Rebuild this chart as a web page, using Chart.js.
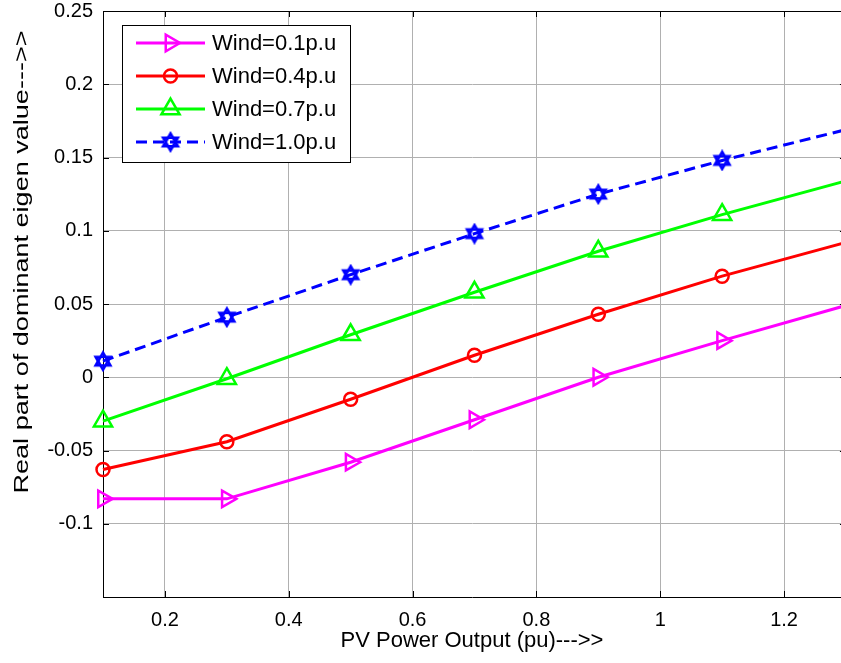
<!DOCTYPE html>
<html><head><meta charset="utf-8">
<script src="https://cdn.jsdelivr.net/npm/chart.js@4/dist/chart.umd.min.js"></script>
<style>html,body{margin:0;padding:0;background:#fff}#wrap{width:841px;height:663px;position:relative}</style>
</head><body><div id="wrap"><canvas id="c" width="841" height="663"></canvas></div>
<script>
// ---- data ----
const pvOutput = [0.1, 0.3, 0.5, 0.7, 0.9, 1.1, 1.3];
const wind01 = [-0.083, -0.083, -0.058, -0.029, 0.000, 0.025, 0.049];
const wind04 = [-0.063, -0.044, -0.015, 0.015, 0.043, 0.069, 0.092];
const wind07 = [-0.030, -0.001, 0.029, 0.058, 0.086, 0.111, 0.134];
const wind10 = [0.011, 0.041, 0.070, 0.098, 0.125, 0.148, 0.169];
const seriesNames = ['Wind=0.1p.u', 'Wind=0.4p.u', 'Wind=0.7p.u', 'Wind=1.0p.u'];
const xTickValues = [0.2, 0.4, 0.6, 0.8, 1.0, 1.2];
const xTickLabels = ['0.2', '0.4', '0.6', '0.8', '1', '1.2'];
const yTickValues = [-0.1, -0.05, 0, 0.05, 0.1, 0.15, 0.2, 0.25];
const yTickLabels = ['-0.1', '-0.05', '0', '0.05', '0.1', '0.15', '0.2', '0.25'];
const xTitle = 'PV Power Output (pu)--->>';
const yTitle = 'Real part of dominant eigen value--->>';

const FONT = "'Liberation Sans', Arial, sans-serif";

function makeHexagram(color) {
  const c = document.createElement('canvas');
  c.width = 22; c.height = 22;
  const g = c.getContext('2d');
  g.strokeStyle = color; g.lineWidth = 2.6; g.lineJoin = 'miter';
  const R = 8.5, cx = 11, cy = 11;
  [[-90, 30, 150], [90, 210, 330]].forEach(a => {
    g.beginPath();
    a.forEach((d, i) => {
      const r = d * Math.PI / 180;
      const px = cx + R * Math.cos(r), py = cy + R * Math.sin(r);
      if (i) g.lineTo(px, py); else g.moveTo(px, py);
    });
    g.closePath(); g.stroke();
  });
  return c;
}
const hexImg = makeHexagram('#0000ff');

const styles = [
  {color: '#ff00ff', pointStyle: 'triangle', rotation: 90, radius: 9.5, dash: []},
  {color: '#ff0000', pointStyle: 'circle', rotation: 0, radius: 6.5, dash: []},
  {color: '#00ff00', pointStyle: 'triangle', rotation: 0, radius: 10.5, dash: []},
  {color: '#0000ff', pointStyle: hexImg, rotation: 0, radius: 9, dash: [11, 6]}
];
const series = [wind01, wind04, wind07, wind10];

const datasets = series.map((vals, i) => ({
  label: seriesNames[i],
  data: pvOutput.map((x, j) => ({x: x, y: vals[j]})),
  borderColor: styles[i].color,
  backgroundColor: 'rgba(0,0,0,0)',
  borderWidth: 3,
  borderDash: styles[i].dash,
  pointStyle: styles[i].pointStyle,
  rotation: styles[i].rotation,
  pointRadius: pvOutput.map(x => x > 1.2 ? 0 : styles[i].radius),
  pointBorderWidth: 2.5,
  pointBorderColor: styles[i].color,
  pointBackgroundColor: 'rgba(0,0,0,0)',
  tension: 0,
  clip: false
}));

function drawMarker(ctx, st, x, y) {
  ctx.save();
  ctx.strokeStyle = st.color; ctx.lineWidth = 2.5; ctx.setLineDash([]);
  if (st.pointStyle === 'circle') {
    ctx.beginPath(); ctx.arc(x, y, st.radius, 0, Math.PI * 2); ctx.stroke();
  } else if (st.pointStyle === 'triangle') {
    let rad = st.rotation * Math.PI / 180;
    ctx.beginPath();
    for (let k = 0; k < 3; k++) {
      const px = x + Math.sin(rad) * st.radius, py = y - Math.cos(rad) * st.radius;
      if (k) ctx.lineTo(px, py); else ctx.moveTo(px, py);
      rad += Math.PI * 2 / 3;
    }
    ctx.closePath(); ctx.stroke();
  } else {
    ctx.drawImage(st.pointStyle, x - st.pointStyle.width / 2, y - st.pointStyle.height / 2);
  }
  ctx.restore();
}

const decorPlugin = {
  id: 'decor',
  beforeDatasetsDraw(chart) {
    const {ctx, chartArea: a, scales: {x, y}} = chart;
    ctx.save();
    ctx.strokeStyle = '#000'; ctx.lineWidth = 1;
    ctx.beginPath();
    ctx.moveTo(a.left, a.top + 0.5); ctx.lineTo(a.right, a.top + 0.5);
    const rightPx = x.getPixelForValue(1.3);
    x.ticks.forEach(t => {
      const px = Math.round(x.getPixelForValue(t.value)) + 0.5;
      ctx.moveTo(px, a.bottom); ctx.lineTo(px, a.bottom - 6);
      ctx.moveTo(px, a.top); ctx.lineTo(px, a.top + 6);
    });
    y.ticks.forEach(t => {
      const py = Math.round(y.getPixelForValue(t.value)) + 0.5;
      ctx.moveTo(a.left, py); ctx.lineTo(a.left + 6, py);
      ctx.moveTo(rightPx, py); ctx.lineTo(rightPx - 6, py);
    });
    ctx.stroke();
    ctx.restore();
  },
  afterDraw(chart) {
    const ctx = chart.ctx;
    // y axis title (stretched along its length like the reference)
    ctx.save();
    ctx.font = '21px ' + FONT;
    ctx.fillStyle = '#000';
    const w = ctx.measureText(yTitle).width;
    ctx.translate(28, 262);
    ctx.rotate(-Math.PI / 2);
    ctx.scale(463 / w, 1);
    ctx.textAlign = 'center';
    ctx.textBaseline = 'alphabetic';
    ctx.fillText(yTitle, 0, 0);
    ctx.restore();

    // legend box
    ctx.save();
    const bx = 122.5, by = 25.5, bw = 228, bh = 137;
    ctx.fillStyle = '#fff';
    ctx.fillRect(bx, by, bw, bh);
    ctx.strokeStyle = '#000'; ctx.lineWidth = 1;
    ctx.strokeRect(bx, by, bw, bh);
    const rowY = [43, 76, 109, 142];
    seriesNames.forEach((name, i) => {
      const st = styles[i];
      ctx.save();
      ctx.strokeStyle = st.color; ctx.lineWidth = 3; ctx.setLineDash(st.dash);
      ctx.beginPath(); ctx.moveTo(136, rowY[i]); ctx.lineTo(205, rowY[i]); ctx.stroke();
      ctx.restore();
      drawMarker(ctx, st, 170.5, rowY[i]);
      ctx.fillStyle = '#000';
      ctx.font = '22px ' + FONT;
      ctx.textAlign = 'left'; ctx.textBaseline = 'middle';
      ctx.fillText(name, 212, rowY[i] + 1);
    });
    ctx.restore();
  }
};

new Chart(document.getElementById('c'), {
  type: 'line',
  data: {datasets},
  plugins: [decorPlugin],
  options: {
    responsive: false,
    animation: false,
    layout: {autoPadding: false, padding: {top: 11, left: 0, right: 0, bottom: 0}},
    plugins: {legend: {display: false}, tooltip: {enabled: false}},
    scales: {
      x: {
        type: 'linear', min: 0.1, max: 1.292,
        afterBuildTicks: s => { s.ticks = xTickValues.map(v => ({value: v})); },
        afterFit: s => { s.height = 66; s.paddingLeft = 0; s.paddingRight = 0; },
        ticks: {
          padding: 11, maxRotation: 0, autoSkip: false, color: '#000',
          font: {family: FONT, size: 20},
          callback: (v, i) => xTickLabels[i]
        },
        grid: {color: '#b0b0b0', lineWidth: 1, drawTicks: false},
        border: {display: true, color: '#000', width: 1},
        title: {display: true, text: xTitle, color: '#000', font: {family: FONT, size: 22}, padding: {top: 0, bottom: 9}}
      },
      y: {
        type: 'linear', min: -0.15, max: 0.25,
        afterBuildTicks: s => { s.ticks = yTickValues.map(v => ({value: v})); },
        afterFit: s => { s.width = 103; s.paddingTop = 0; s.paddingBottom = 0; },
        ticks: {
          padding: 10, autoSkip: false, color: '#000',
          font: {family: FONT, size: 20},
          callback: (v, i) => yTickLabels[i]
        },
        grid: {color: '#b0b0b0', lineWidth: 1, drawTicks: false},
        border: {display: true, color: '#000', width: 1}
      }
    }
  }
});
</script>
</body></html>
